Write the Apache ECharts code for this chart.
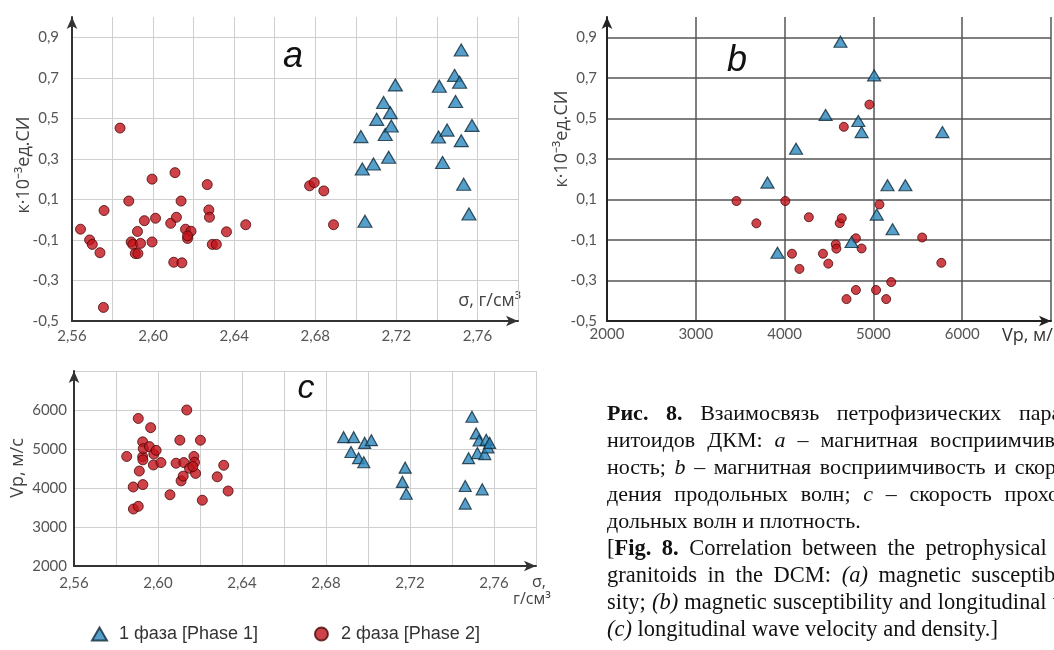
<!DOCTYPE html>
<html>
<head>
<meta charset="utf-8">
<script src="https://cdn.jsdelivr.net/npm/echarts@6/dist/echarts.min.js"></script>
<style>
  html, body { margin: 0; padding: 0; background: #fff; overflow: hidden; }
  #chart { position: absolute; left: 0; top: 0; width: 1054px; height: 650px; }
  .caption {
    position: absolute; left: 607px;
    font-family: "Liberation Serif", "DejaVu Serif", serif;
    line-height: 27px; color: #111;
  }
  #capRu { top: 399px; width: 575px; font-size: 22px; }
  #capEn { top: 534px; width: 578px; font-size: 22.5px; }
  .caption div { text-align: justify; text-align-last: justify; }
  .caption div.last { text-align-last: left; }
</style>
</head>
<body>
<div id="chart"></div>
<div class="caption" id="capRu">
  <div><b>Рис. 8.</b> Взаимосвязь петрофизических параметров гра-</div>
  <div>нитоидов ДКМ: <i>a</i> – магнитная восприимчивость и плот-</div>
  <div>ность; <i>b</i> – магнитная восприимчивость и скорость прохож-</div>
  <div>дения продольных волн; <i>c</i> – скорость прохождения про-</div>
  <div class="last">дольных волн и плотность.</div>
</div>
<div class="caption" id="capEn">
  <div>[<b>Fig. 8.</b> Correlation between the petrophysical parameters of</div>
  <div>granitoids in the DCM: <i>(a)</i> magnetic susceptibility and den-</div>
  <div>sity; <i>(b)</i> magnetic susceptibility and longitudinal wave velocity;</div>
  <div class="last"><i>(c)</i> longitudinal wave velocity and density.]</div>
</div>
<script>
// --- data ---
const seriesNames = ['1 фаза [Phase 1]', '2 фаза [Phase 2]'];

// (a) density (g/cm3) vs susceptibility
const phase1DensityKappa = [
  [2.7025, 0.41], [2.7032, 0.25], [2.7045, -0.008], [2.7087, 0.275], [2.7103, 0.495],
  [2.7137, 0.578], [2.717, 0.528], [2.7145, 0.42], [2.7175, 0.462], [2.7162, 0.308],
  [2.7195, 0.665], [2.7412, 0.658], [2.7408, 0.408], [2.745, 0.442], [2.7428, 0.282],
  [2.7487, 0.712], [2.7512, 0.678], [2.7492, 0.583], [2.752, 0.837], [2.752, 0.39],
  [2.7573, 0.465], [2.7532, 0.175], [2.7558, 0.028]
];
const phase2DensityKappa = [
  [2.5642, -0.047], [2.5687, -0.1], [2.570, -0.122], [2.5738, -0.163], [2.5758, 0.045],
  [2.5755, -0.433], [2.5837, 0.452], [2.588, 0.092], [2.5892, -0.11], [2.590, -0.122],
  [2.5912, -0.167], [2.5925, -0.167], [2.5923, -0.058], [2.5938, -0.117], [2.5957, -0.005],
  [2.5995, 0.2], [2.5995, -0.11], [2.6012, 0.007], [2.6087, -0.018], [2.6108, 0.232],
  [2.6115, 0.012], [2.6102, -0.21], [2.6142, -0.213], [2.6138, 0.092], [2.616, -0.047],
  [2.617, -0.093], [2.6187, -0.057], [2.617, -0.08], [2.6267, 0.173], [2.6275, 0.048],
  [2.6278, 0.012], [2.6292, -0.122], [2.6312, -0.122], [2.6362, -0.06], [2.6457, -0.025],
  [2.6772, 0.167], [2.6795, 0.183], [2.6842, 0.142], [2.689, -0.025]
];

// (b) Vp (m/s) vs susceptibility
const phase1VpKappa = [
  [4629, 0.878], [5008, 0.712], [4462, 0.517], [4830, 0.487], [4867, 0.432],
  [4129, 0.35], [3807, 0.183], [5159, 0.17], [5360, 0.17], [5777, 0.432],
  [5038, 0.025], [5216, -0.047], [4754, -0.11], [3920, -0.163]
];
const phase2VpKappa = [
  [3458, 0.092], [3682, -0.018], [4008, 0.092], [4083, -0.168], [4167, -0.243],
  [4273, 0.012], [4432, -0.168], [4492, -0.217], [4576, -0.122], [4583, -0.143],
  [4621, -0.017], [4644, 0.007], [4667, 0.458], [4697, -0.392], [4803, -0.092],
  [4803, -0.347], [4867, -0.142], [4955, 0.568], [5030, -0.347], [5068, 0.075],
  [5144, -0.392], [5201, -0.308], [5549, -0.088], [5765, -0.213]
];

// (c) density vs Vp
const phase1DensityVp = [
  [2.6884, 5304], [2.6932, 5304], [2.6919, 4922], [2.6955, 4765], [2.698, 4661],
  [2.6984, 5157], [2.7016, 5226], [2.7177, 4522], [2.7164, 4157], [2.7182, 3852],
  [2.7463, 4052], [2.7463, 3600], [2.7495, 5826], [2.7515, 5400], [2.7479, 4765],
  [2.7529, 5217], [2.7521, 4896], [2.7556, 4870], [2.7563, 5235], [2.7571, 5043],
  [2.7544, 3965], [2.7579, 5157]
];
const phase2DensityVp = [
  [2.5851, 4809], [2.5882, 4026], [2.5883, 3461], [2.5906, 3530], [2.5906, 5783],
  [2.5911, 4435], [2.5927, 5183], [2.5928, 4087], [2.5927, 4800], [2.5928, 4722],
  [2.593, 5009], [2.5965, 5548], [2.5959, 5061], [2.598, 4870], [2.5991, 4965],
  [2.5978, 4591], [2.6014, 4652], [2.6057, 3826], [2.6086, 4635], [2.6104, 5226],
  [2.611, 4183], [2.612, 4304], [2.6123, 4652], [2.6137, 6000], [2.615, 4504],
  [2.6171, 4809], [2.6174, 4661], [2.6179, 4374], [2.6166, 4548], [2.6202, 5226],
  [2.6211, 3687], [2.6282, 4287], [2.6313, 4583], [2.6334, 3922]
];

const blue = '#2b87bd', blueEdge = '#0f2a3a';
const red = '#c0141b', redEdge = '#4a0606';

const labelFont = { fontFamily: 'Lato', fontSize: 15, color: '#555' };
const nameFont = '18px "Open Sans"';

function axisLine(color) {
  return { show: true, onZero: false, symbol: ['none', 'arrow'], symbolSize: [8, 12],
           lineStyle: { color: color, width: 2 } };
}
// density axis: grid every 0.02, labels every 0.04
function densityLabel(v) {
  const k = Math.round((v - 2.56) / 0.02);
  return (k % 2 === 0 && k < 11) ? v.toFixed(2).replace('.', ',') : '';
}
function kappaLabel(v) {
  return v > 0.95 ? '' : v.toFixed(1).replace('.', ',');
}

const chart = echarts.init(document.getElementById('chart'));
chart.setOption({
  animation: false,
  grid: [
    { left: 72, top: 17, width: 446, height: 304 },
    { left: 607, top: 17, width: 445, height: 304 },
    { left: 74, top: 371, width: 462, height: 195 }
  ],
  xAxis: [
    { gridIndex: 0, type: 'value', min: 2.56, max: 2.78, interval: 0.02,
      axisLine: axisLine('#333'), axisTick: { show: false },
      axisLabel: Object.assign({ margin: 8, formatter: densityLabel }, labelFont),
      splitLine: { lineStyle: { color: '#cfcfcf', width: 1 } } },
    { gridIndex: 1, type: 'value', min: 2000, max: 7000, interval: 1000,
      axisLine: axisLine('#222'), axisTick: { show: false },
      axisLabel: Object.assign({ margin: 6, formatter: v => v >= 7000 ? '' : String(v) }, labelFont),
      splitLine: { lineStyle: { color: '#555', width: 1.5 } } },
    { gridIndex: 2, type: 'value', min: 2.56, max: 2.78, interval: 0.02,
      axisLine: axisLine('#333'), axisTick: { show: false },
      axisLabel: Object.assign({ margin: 10, formatter: densityLabel }, labelFont),
      splitLine: { lineStyle: { color: '#cfcfcf', width: 1 } } }
  ],
  yAxis: [
    { gridIndex: 0, type: 'value', min: -0.5, max: 1.0, interval: 0.2,
      axisLine: axisLine('#333'), axisTick: { show: false },
      axisLabel: Object.assign({ margin: 13, formatter: kappaLabel }, labelFont),
      splitLine: { showMaxLine: false, lineStyle: { color: '#cfcfcf', width: 1 } } },
    { gridIndex: 1, type: 'value', min: -0.5, max: 1.0, interval: 0.2,
      axisLine: axisLine('#222'), axisTick: { show: false },
      axisLabel: Object.assign({ margin: 10, formatter: kappaLabel }, labelFont),
      splitLine: { showMaxLine: false, lineStyle: { color: '#555', width: 1.5 } } },
    { gridIndex: 2, type: 'value', min: 2000, max: 7000, interval: 1000,
      axisLine: axisLine('#333'), axisTick: { show: false },
      axisLabel: Object.assign({ margin: 7, formatter: v => v >= 7000 ? '' : String(v) }, labelFont),
      splitLine: { lineStyle: { color: '#cfcfcf', width: 1 } } }
  ],
  legend: {
    left: 86, top: 620, itemWidth: 15, itemHeight: 13, itemGap: 56,
    data: [{ name: seriesNames[0], icon: 'triangle' }, { name: seriesNames[1], icon: 'circle' }],
    textStyle: { fontFamily: 'Liberation Sans', fontSize: 18, color: '#333', padding: [0, 0, 0, 7] }
  },
  graphic: [
    { type: 'text', x: 293, y: 57, style: { text: 'a', font: 'italic 36px "Liberation Sans"', fill: '#111', align: 'center', verticalAlign: 'middle' } },
    { type: 'text', x: 737, y: 61, style: { text: 'b', font: 'italic 36px "Liberation Sans"', fill: '#111', align: 'center', verticalAlign: 'middle' } },
    { type: 'text', x: 306, y: 389, style: { text: 'c', font: 'italic 34px "Liberation Sans"', fill: '#111', align: 'center', verticalAlign: 'middle' } },
    { type: 'text', x: 24, y: 165, rotation: Math.PI / 2, style: { text: 'к·10⁻³ед.СИ', font: nameFont, fill: '#444', align: 'center', verticalAlign: 'middle' } },
    { type: 'text', x: 562, y: 139, rotation: Math.PI / 2, style: { text: 'к·10⁻³ед.СИ', font: nameFont, fill: '#444', align: 'center', verticalAlign: 'middle' } },
    { type: 'text', x: 18, y: 468, rotation: Math.PI / 2, style: { text: 'Vp, м/с', font: nameFont, fill: '#444', align: 'center', verticalAlign: 'middle' } },
    { type: 'text', x: 521, y: 301, style: { text: 'σ, г/см³', font: nameFont, fill: '#444', align: 'right', verticalAlign: 'middle' } },
    { type: 'text', x: 1002, y: 336, style: { text: 'Vp, м/с', font: nameFont, fill: '#333', align: 'left', verticalAlign: 'middle' } },
    { type: 'text', x: 532, y: 582, style: { text: 'σ,', font: '16px "Open Sans"', fill: '#444', align: 'left', verticalAlign: 'middle' } },
    { type: 'text', x: 513, y: 599, style: { text: 'г/см³', font: '16px "Open Sans"', fill: '#444', align: 'left', verticalAlign: 'middle' } }
  ],
  series: [
    { name: seriesNames[1], type: 'scatter', xAxisIndex: 0, yAxisIndex: 0, data: phase2DensityKappa,
      symbol: 'circle', symbolSize: 10, itemStyle: { color: red, borderColor: redEdge, borderWidth: 1 } },
    { name: seriesNames[0], type: 'scatter', xAxisIndex: 0, yAxisIndex: 0, data: phase1DensityKappa,
      symbol: 'triangle', symbolSize: [14, 12], itemStyle: { color: blue, borderColor: blueEdge, borderWidth: 1.2 } },
    { name: seriesNames[1], type: 'scatter', xAxisIndex: 1, yAxisIndex: 1, data: phase2VpKappa,
      symbol: 'circle', symbolSize: 9, itemStyle: { color: red, borderColor: redEdge, borderWidth: 1 } },
    { name: seriesNames[0], type: 'scatter', xAxisIndex: 1, yAxisIndex: 1, data: phase1VpKappa,
      symbol: 'triangle', symbolSize: [13, 11], itemStyle: { color: blue, borderColor: blueEdge, borderWidth: 1.2 } },
    { name: seriesNames[1], type: 'scatter', xAxisIndex: 2, yAxisIndex: 2, data: phase2DensityVp,
      symbol: 'circle', symbolSize: 10, itemStyle: { color: red, borderColor: redEdge, borderWidth: 1 } },
    { name: seriesNames[0], type: 'scatter', xAxisIndex: 2, yAxisIndex: 2, data: phase1DensityVp,
      symbol: 'triangle', symbolSize: [12, 11], itemStyle: { color: blue, borderColor: blueEdge, borderWidth: 1.2 } }
  ]
});
</script>
</body>
</html>
